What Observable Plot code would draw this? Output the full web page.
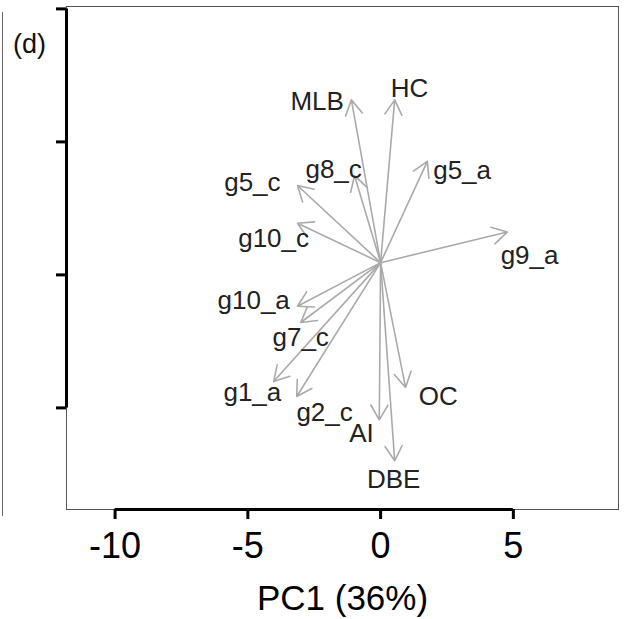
<!DOCTYPE html>
<html>
<head>
<meta charset="utf-8">
<script src="https://cdn.jsdelivr.net/npm/d3@7"></script>
<script src="https://cdn.jsdelivr.net/npm/@observablehq/plot@0.6"></script>
<style>
  html, body { margin: 0; padding: 0; background: #fff; }
  #wrap { position: relative; width: 628px; height: 619px; }
  /* right border of the neighbouring panel */
  #edge { position: absolute; left: 2px; top: 12px; width: 0; height: 504px; border-left: 1px solid #666; }
  svg { font-family: "Liberation Sans", Arial, sans-serif; }
</style>
</head>
<body>
<div id="wrap"><div id="edge"></div></div>
<script>
// Loadings of each variable on PC1 / PC2 (arrow tips)
const variables = ["MLB", "HC", "g8_c", "g5_c", "g10_c", "g10_a", "g7_c", "g1_a", "g2_c", "AI", "DBE", "OC", "g5_a", "g9_a"];
const pc1 = [-1.10, 0.53, -0.98, -3.13, -3.13, -3.13, -3.01, -4.03, -3.16, -0.05, 0.53, 0.94, 1.76, 4.77];
const pc2 = [6.58, 6.58, 3.73, 3.36, 1.94, -1.18, -1.79, -4.01, -4.57, -5.45, -6.99, -4.23, 4.27, 1.61];

// Where each variable name is written (label baseline centre)
const labelPC1 = [-2.39, 1.09, -1.77, -4.83, -4.03, -4.78, -3.01, -4.83, -2.11, -0.72, 0.49, 2.17, 3.07, 5.61];
const labelPC2 = [6.20, 6.68, 3.66, 3.17, 1.05, -1.27, -2.66, -4.73, -5.48, -6.29, -8.00, -4.91, 3.62, 0.42];

// Common origin of the loading arrows
const origin = [0, 0.46];

// Axis settings
const xTicks = [-10, -5, 0, 5];
const yTicks = [-5, 0, 5, 10];
const xDomain = [-11.83, 8.96];
const yDomain = [-8.82, 10.09];
const xLabel = "PC1 (36%)";
const panelTag = "(d)";

const rows = variables.map((name, i) => ({
  name, x: pc1[i], y: pc2[i], lx: labelPC1[i], ly: labelPC2[i]
}));

const chart = Plot.plot({
  width: 628,
  height: 619,
  marginLeft: 66,
  marginRight: 10,
  marginTop: 6,
  marginBottom: 110,
  x: { domain: xDomain },
  y: { domain: yDomain },
  style: { background: "#fff", fontFamily: "Liberation Sans, Arial, sans-serif" },
  marks: [
    Plot.frame({ stroke: "#555", strokeWidth: 1 }),
    // y axis: thick spine and outward ticks, no labels
    Plot.ruleX([xDomain[0]], { y1: yTicks[0], y2: yTicks[yTicks.length - 1], stroke: "#000", strokeWidth: 3 }),
    Plot.axisY(yTicks, { anchor: "left", tickSize: 10, strokeWidth: 3, tickFormat: () => "", label: null }),
    // x axis: thick spine, ticks and labels
    Plot.ruleY([yDomain[0]], { x1: xTicks[0], x2: xTicks[xTicks.length - 1], stroke: "#000", strokeWidth: 3 }),
    Plot.axisX(xTicks, { anchor: "bottom", tickSize: 10, strokeWidth: 3, tickFormat: () => "", label: null }),
    Plot.text(xTicks, { x: d => d, frameAnchor: "bottom", dy: 48, lineAnchor: "bottom", fontSize: 36, fill: "#000", text: d => String(d) }),
    Plot.text([xLabel], { frameAnchor: "bottom", dy: 100, lineAnchor: "bottom", fontSize: 35, fill: "#000" }),
    Plot.text([panelTag], { frameAnchor: "top-left", dx: -37, dy: 46, lineAnchor: "bottom", textAnchor: "middle", fontSize: 27, fill: "#111" }),
    // loading arrows
    Plot.arrow(rows, {
      x1: () => origin[0], y1: () => origin[1], x2: "x", y2: "y",
      stroke: "#aaaaaa", strokeWidth: 1.6, headLength: 16, headAngle: 60
    }),
    Plot.text(rows, {
      x: "lx", y: "ly", text: "name", lineAnchor: "bottom", textAnchor: "middle",
      fontSize: 26, fill: "#222"
    })
  ]
});

document.getElementById("wrap").appendChild(chart);
</script>
</body>
</html>
